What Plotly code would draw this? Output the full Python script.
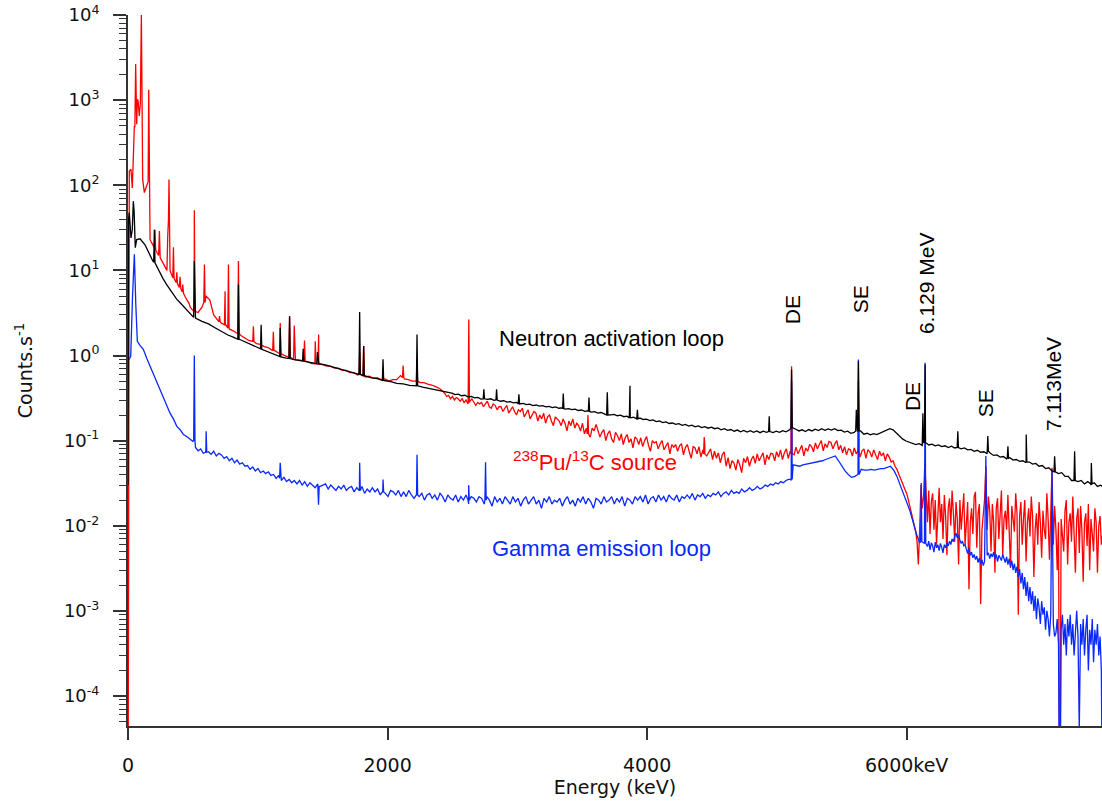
import numpy as np
import plotly.graph_objects as go

# ---------------- data (energies in keV, counts per second) ----------------
# Pu/C source (red)
RED_LOW_E = [0, 10, 23, 33, 41, 49, 53, 59, 64, 67, 72, 78, 87, 95, 103, 108, 113, 126, 144, 155,
             160, 165, 170, 183, 195, 203, 208, 213, 225, 236, 242, 248, 260, 272, 285, 300, 306, 312, 316, 320,
             324, 337, 345, 350, 355, 365, 371, 376, 381, 395, 401, 407, 417, 422, 427, 440, 455, 470]
RED_LOW_V = [1e-6, 146, 154, 93, 211, 498, 480, 2660, 700, 520, 1020, 980, 650, 900, 10200, 400, 117, 82, 98, 110,
             1320, 45, 23, 21, 19.5, 18.5, 30, 17.5, 16, 15, 29, 14, 13, 12, 11, 10, 25, 40, 117, 30,
             10, 8.8, 8.2, 18.7, 8.0, 7.5, 7.2, 9.5, 7.0, 6.3, 8.4, 6.1, 5.6, 6.8, 5.4, 4.9, 4.5, 4.1]
RED_A = [3.7, 3.35, 3.2, 3.7, 5.0, 4.5, 3.0, 2.6, 2.4, 2.25,
         2.05, 1.95, 1.82, 1.72, 1.6, 1.5, 1.47, 1.38, 1.35, 1.27,
         1.24, 1.15, 1.12, 1.04, 1.01, 0.95, 0.94, 0.89, 0.89, 0.85,
         0.85, 0.81, 0.81, 0.78, 0.78, 0.75, 0.75, 0.71, 0.71, 0.67,
         0.67, 0.63, 0.63, 0.59, 0.59, 0.56, 0.57, 0.54, 0.55, 0.52,
         0.53, 0.5, 0.52, 0.52, 0.58, 0.53, 0.52, 0.5, 0.5, 0.48,
         0.48, 0.46, 0.45, 0.43, 0.41]
RED_B = [0.38, 0.36, 0.33, 0.34, 0.31, 0.33, 0.30, 0.32, 0.31, 0.29,
         0.31, 0.28, 0.30, 0.27, 0.29, 0.31, 0.28, 0.26, 0.28, 0.27,
         0.28, 0.25, 0.27, 0.29, 0.25, 0.24, 0.27, 0.26, 0.23, 0.25,
         0.25, 0.22, 0.24, 0.26, 0.21, 0.23, 0.25, 0.22, 0.2, 0.23,
         0.22, 0.24, 0.19, 0.21, 0.23, 0.18, 0.2, 0.22, 0.21, 0.17,
         0.2, 0.18, 0.21, 0.16, 0.19, 0.2, 0.17, 0.15, 0.19, 0.18,
         0.17, 0.15, 0.18, 0.16, 0.13, 0.17, 0.15, 0.18, 0.14, 0.16,
         0.15, 0.13, 0.16, 0.12, 0.14, 0.15, 0.11, 0.14, 0.13, 0.155,
         0.13, 0.11, 0.125, 0.135, 0.1, 0.12, 0.13, 0.105, 0.095, 0.125,
         0.115, 0.1, 0.12, 0.09, 0.108, 0.118, 0.095, 0.105, 0.082, 0.11,
         0.105, 0.09, 0.108, 0.085, 0.1, 0.112, 0.088, 0.075, 0.1, 0.094,
         0.097, 0.08, 0.092, 0.1, 0.078, 0.088, 0.095, 0.07, 0.09, 0.084,
         0.09, 0.075, 0.087, 0.092, 0.068, 0.083, 0.09, 0.074, 0.062, 0.085,
         0.082, 0.07, 0.085, 0.064, 0.078, 0.088, 0.066, 0.072, 0.08, 0.06,
         0.075, 0.062, 0.072, 0.055, 0.068, 0.074, 0.05, 0.063, 0.047, 0.058,
         0.055, 0.045, 0.06, 0.052, 0.042, 0.062, 0.055, 0.065, 0.05, 0.06,
         0.066, 0.054, 0.07, 0.058, 0.064, 0.072, 0.052, 0.068, 0.06, 0.071,
         0.07, 0.058, 0.074, 0.064, 0.078, 0.06, 0.072, 0.08, 0.062, 0.075,
         0.078, 0.068, 0.084, 0.07, 0.08, 0.088, 0.066, 0.082, 0.075, 0.09,
         0.085, 0.074, 0.094, 0.08, 0.09, 0.1, 0.076, 0.092, 0.083, 0.098,
         0.095, 0.08, 0.092, 0.1, 0.078, 0.088, 0.072, 0.085, 0.068, 0.08,
         0.078, 0.066, 0.082, 0.07, 0.085, 0.064, 0.076, 0.08, 0.062, 0.078,
         0.074, 0.064, 0.078, 0.068, 0.06, 0.075, 0.066, 0.072, 0.058, 0.07,
         0.064, 0.056, 0.058, 0.05, 0.046, 0.04, 0.036, 0.031, 0.027, 0.024]
RED_C = [0.021, 0.018, 0.016, 0.014, 0.012, 0.01, 0.0085, 0.0065, 0.0035, 0.009,
         0.03, 0.016, 0.022, 0.055, 0.018, 0.011, 0.026, 0.008, 0.019, 0.024,
         0.009, 0.02, 0.006, 0.015, 0.028, 0.011, 0.018, 0.007, 0.023, 0.013,
         0.0045, 0.016, 0.021, 0.01, 0.026, 0.014, 0.0065, 0.019, 0.012, 0.0035,
         0.02, 0.009, 0.017, 0.024, 0.006, 0.013, 0.019, 0.0018, 0.011, 0.016,
         0.008, 0.022, 0.025, 0.0055, 0.014, 0.018, 0.0012, 0.009, 0.014, 0.02,
         0.05, 0.009, 0.022, 0.015, 0.005, 0.018, 0.011, 0.0028, 0.016, 0.021,
         0.007, 0.013, 0.026, 0.0045, 0.012, 0.015, 0.009, 0.023, 0.006, 0.0032,
         0.017, 0.011, 0.0085, 0.024, 0.014, 0.0009, 0.013, 0.019, 0.006, 0.012,
         0.02, 0.0038, 0.011, 0.016, 0.0075, 0.022, 0.013, 0.0025, 0.009, 0.014,
         0.006, 0.019, 0.011, 0.0042, 0.015, 0.009, 0.007, 0.024, 0.012, 0.004,
         0.012, 0.048, 0.006, 0.017, 0.009, 0.003, 0.011, 1e-6, 0.012, 0.008,
         0.005, 0.015, 0.02, 0.0035, 0.011, 0.014, 0.0065, 0.022, 0.009, 0.0028,
         0.012, 0.016, 0.0048, 0.017, 0.009, 0.0022, 0.011, 0.014, 0.0058, 0.018,
         0.003, 0.012, 0.008, 0.005, 0.016, 0.011, 0.0028, 0.01, 0.013, 0.006,
         0.008]
RED_SEGMENTS = [(480, 2400, RED_A), (2425, 6000, RED_B), (6010, 7510, RED_C)]
# peaks: (energy, peak height, height at foot)
RED_PEAKS = [(511, 51, 3.3), (589, 11.7, 4.2), (705, 2.9, 2.5), (748, 5.7, 2.3), (774, 11.7, 2.1),
             (851, 12.9, 1.8), (966, 2.2, 1.45), (1120, 1.9, 1.15), (1173, 2.4, 1.05), (1245, 2.9, 0.95),
             (1281, 2.25, 0.9), (1360, 1.5, 0.86), (1443, 1.47, 0.8), (1469, 1.77, 0.79), (1785, 1.1, 0.6),
             (1816, 1.29, 0.58), (2120, 0.76, 0.55), (2227, 0.9, 0.5), (2626, 2.65, 0.28), (3544, 0.2, 0.12),
             (4440, 0.11, 0.07), (5113, 0.75, 0.07), (5628, 0.5, 0.075)]

# Gamma emission loop (blue)
BLUE_LOW_E = [8, 21, 35, 49, 60, 72, 95, 118, 145, 170, 195, 221, 246, 272, 298, 324, 350, 376, 401, 427,
              452, 478, 500]
BLUE_LOW_V = [0.9, 0.98, 5, 15.5, 4, 1.47, 1.3, 1.18, 0.92, 0.75, 0.6, 0.5, 0.41, 0.33, 0.27, 0.21, 0.18, 0.147,
              0.135, 0.118, 0.112, 0.103, 0.098]
BLUE_A = [0.083, 0.076, 0.08, 0.071, 0.078, 0.074, 0.069, 0.075, 0.066, 0.071,
          0.068, 0.062, 0.065, 0.058, 0.062, 0.055, 0.059, 0.053, 0.055, 0.05,
          0.051, 0.046, 0.049, 0.044, 0.047, 0.042, 0.044, 0.041, 0.043, 0.039,
          0.04, 0.036, 0.039, 0.034, 0.037, 0.033, 0.035, 0.032, 0.034, 0.031,
          0.034, 0.03, 0.033, 0.029, 0.032, 0.03, 0.028, 0.031, 0.029, 0.03,
          0.031, 0.027, 0.03, 0.028, 0.026, 0.029, 0.027, 0.03, 0.026, 0.028,
          0.029, 0.025, 0.028, 0.026, 0.029, 0.024, 0.027, 0.025, 0.028, 0.025,
          0.027, 0.023, 0.026, 0.024, 0.022, 0.026, 0.025, 0.023, 0.026, 0.022,
          0.025, 0.022, 0.026, 0.023, 0.021, 0.025, 0.022, 0.024, 0.02, 0.023,
          0.024, 0.021, 0.023, 0.02, 0.024, 0.022, 0.019, 0.023, 0.021, 0.02,
          0.023, 0.019, 0.022, 0.02, 0.023, 0.018, 0.022, 0.021, 0.019, 0.022,
          0.021, 0.018, 0.022, 0.02, 0.017, 0.022, 0.019, 0.021, 0.018, 0.022,
          0.02, 0.018, 0.022, 0.019, 0.021, 0.017, 0.02, 0.022, 0.018, 0.02,
          0.022, 0.018, 0.02, 0.016, 0.021, 0.019, 0.022, 0.018, 0.02, 0.019,
          0.021, 0.017, 0.02, 0.022, 0.018, 0.02, 0.017, 0.021, 0.019, 0.022,
          0.018, 0.021, 0.019, 0.016, 0.021, 0.02, 0.018, 0.022, 0.019, 0.02,
          0.022, 0.018, 0.021, 0.019, 0.022, 0.017, 0.021, 0.02, 0.018, 0.022,
          0.02, 0.022, 0.019, 0.023, 0.018, 0.021, 0.022, 0.019, 0.023, 0.02,
          0.022, 0.019, 0.023, 0.021, 0.02, 0.023, 0.019, 0.022, 0.021, 0.023,
          0.021, 0.024, 0.02, 0.023, 0.022, 0.024, 0.021, 0.023, 0.022, 0.024,
          0.023, 0.025, 0.022, 0.024, 0.025, 0.023, 0.026, 0.024, 0.025, 0.024,
          0.027, 0.025, 0.026, 0.028, 0.026, 0.027, 0.029, 0.027, 0.028, 0.03,
          0.029, 0.031, 0.03, 0.032, 0.031, 0.033, 0.032, 0.034, 0.035, 0.034]
BLUE_B = [0.052, 0.051, 0.05, 0.052, 0.053, 0.054, 0.054, 0.056, 0.057, 0.058,
          0.06, 0.062, 0.064, 0.066, 0.058, 0.05, 0.044, 0.04, 0.037, 0.038,
          0.04, 0.046, 0.045, 0.045, 0.046, 0.045, 0.046, 0.047, 0.047, 0.048,
          0.05, 0.045, 0.038, 0.03, 0.024, 0.019, 0.015, 0.011, 0.008, 0.0063]
BLUE_C = [0.0057, 0.0066, 0.0052, 0.0063, 0.0058, 0.0049, 0.0064, 0.0055, 0.006, 0.0051,
          0.0062, 0.0056, 0.0048, 0.006, 0.0055, 0.0063, 0.0058, 0.0066, 0.006, 0.007,
          0.0065, 0.0075, 0.0082, 0.0072, 0.0078, 0.0068, 0.0062, 0.0066, 0.0058, 0.006,
          0.0052, 0.0047, 0.0055, 0.0045, 0.0049, 0.0042, 0.0046, 0.004, 0.0044, 0.0037,
          0.0042, 0.0036, 0.004, 0.0034, 0.0038, 0.066, 0.0045, 0.0048, 0.0041, 0.0047,
          0.0043, 0.0049, 0.0041, 0.0046, 0.0038, 0.0045, 0.0042, 0.0039, 0.0046, 0.0041,
          0.0037, 0.0043, 0.0035, 0.0041, 0.0033, 0.0039, 0.003, 0.0036, 0.0028, 0.0033,
          0.0025, 0.0031, 0.0021, 0.0028, 0.0018, 0.0025, 0.0015, 0.0022, 0.0013, 0.0019,
          0.0012, 0.0017, 0.001, 0.0015, 0.0008, 0.0014, 0.0011, 0.0007, 0.0013, 0.0009,
          0.0011, 0.0006, 0.001, 0.0008, 0.0005, 0.0009, 0.0457, 0.0007, 0.0005, 0.00055,
          0.0008, 0.0004, 1e-6, 0.0006, 0.0009, 0.0004, 0.0007, 0.0003, 0.0008, 0.0005,
          0.0009, 0.0004, 0.0007, 0.0003, 0.0006, 0.001, 0.0005, 0.00004, 0.0007, 0.0004,
          0.0008, 0.0003, 0.0006, 0.0009, 0.0002, 0.0006, 0.0004, 0.0008, 0.00025, 0.0006,
          0.0004, 0.0007, 0.0003, 0.0005, 0.0002, 1e-6]
BLUE_SEGMENTS = [(520, 5110, BLUE_A), (5125, 6100, BLUE_B), (6160, 7510, BLUE_C)]
BLUE_PEAKS = [(511, 1.0, 0.1), (602, 0.129, 0.073), (1173, 0.055, 0.036), (1468, 0.0177, 0.029),
              (1785, 0.055, 0.026), (1965, 0.035, 0.025), (2227, 0.068, 0.023), (2625, 0.03, 0.02),
              (2755, 0.0556, 0.02), (5113, 0.5, 0.035), (5628, 0.9, 0.04), (6112, 0.0318, 0.0065),
              (6142, 0.82, 0.0062)]

# Neutron activation loop (black)
BLACK_LOW_E = [0, 4, 10, 23, 33, 41, 47, 56, 67, 93, 131, 170, 190, 198, 203, 208, 230, 247, 270, 298,
               325, 350, 375, 400, 425, 450, 475, 500]
BLACK_LOW_V = [0.03, 40, 47.6, 24, 30, 65, 50, 18.5, 23, 23.5, 20, 14.7, 13, 12.5, 30, 12.3, 10.5, 9.4, 8, 6.8,
               5.9, 5.1, 4.6, 4.2, 3.8, 3.45, 3.15, 2.9]
BLACK_A = [2.75, 2.52, 2.35, 2.12, 1.92, 1.74, 1.62, 1.52, 1.41, 1.31,
           1.2, 1.11, 1.03, 0.97, 0.93, 0.9, 0.885, 0.85, 0.825, 0.8,
           0.775, 0.74, 0.705, 0.67, 0.645, 0.61, 0.585, 0.55, 0.535, 0.51,
           0.495, 0.47, 0.465, 0.445, 0.44, 0.425, 0.41, 0.39, 0.38, 0.365]
BLACK_B = [0.362, 0.348, 0.352, 0.337, 0.341, 0.326, 0.33, 0.318, 0.322, 0.308,
           0.316, 0.305, 0.31, 0.298, 0.302, 0.29, 0.294, 0.283, 0.287, 0.278,
           0.281, 0.27, 0.274, 0.265, 0.268, 0.258, 0.262, 0.254, 0.257, 0.249,
           0.253, 0.244, 0.249, 0.24, 0.243, 0.234, 0.238, 0.231, 0.234, 0.226,
           0.229, 0.221, 0.224, 0.216, 0.219, 0.211, 0.214, 0.206, 0.208, 0.201,
           0.203, 0.196, 0.199, 0.191, 0.194, 0.186, 0.189, 0.182, 0.184, 0.177,
           0.179, 0.172, 0.175, 0.167, 0.17, 0.163, 0.166, 0.159, 0.161, 0.155,
           0.158, 0.151, 0.155, 0.148, 0.152, 0.145, 0.149, 0.142, 0.146, 0.14,
           0.144, 0.138, 0.141, 0.134, 0.138, 0.132, 0.135, 0.129, 0.133, 0.127,
           0.132, 0.126, 0.131, 0.125, 0.13, 0.124, 0.129, 0.125, 0.13, 0.124,
           0.129, 0.125, 0.131, 0.127, 0.133, 0.142, 0.136, 0.13, 0.134, 0.128,
           0.135, 0.13, 0.136, 0.131, 0.138, 0.132, 0.137, 0.133, 0.138, 0.131,
           0.133, 0.126, 0.129, 0.122, 0.125, 0.128, 0.13, 0.119, 0.122, 0.117,
           0.121, 0.118, 0.123, 0.127, 0.133, 0.138, 0.134, 0.122, 0.112, 0.104,
           0.099, 0.096, 0.093, 0.09, 0.092, 0.088, 0.093, 0.089, 0.091, 0.087,
           0.089, 0.085, 0.087, 0.083, 0.086, 0.082, 0.084, 0.08, 0.082, 0.078,
           0.079, 0.075, 0.077, 0.073, 0.074, 0.07, 0.071, 0.067, 0.068, 0.064,
           0.065, 0.061, 0.063, 0.059, 0.06, 0.057, 0.058, 0.055, 0.056, 0.053,
           0.054, 0.05, 0.051, 0.047, 0.048, 0.044, 0.045, 0.041, 0.042, 0.038,
           0.038, 0.034, 0.036, 0.033, 0.034, 0.031, 0.033, 0.03, 0.032, 0.029,
           0.03, 0.028]
BLACK_SEGMENTS = [(520, 2470, BLACK_A), (2495, 7520, BLACK_B)]
BLACK_PEAKS = [(511, 12.9, 2.8), (851, 6.8, 1.55), (1026, 2.3, 1.18), (1173, 2.1, 0.96), (1245, 2.9, 0.92),
               (1350, 1.2, 0.86), (1460, 1.1, 0.8), (1785, 3.24, 0.6), (1816, 1.29, 0.58), (1965, 0.9, 0.51),
               (2227, 1.77, 0.44), (2742, 0.4, 0.31), (2840, 0.4, 0.3), (3012, 0.35, 0.27), (3354, 0.357, 0.237),
               (3552, 0.32, 0.22), (3693, 0.37, 0.2), (3868, 0.44, 0.185), (3925, 0.23, 0.18), (4941, 0.193, 0.128),
               (5113, 0.684, 0.14), (5612, 0.23, 0.13), (5628, 0.857, 0.13), (6125, 0.21, 0.095), (6142, 0.784, 0.095),
               (6394, 0.129, 0.083), (6625, 0.113, 0.075), (6780, 0.086, 0.062), (6921, 0.118, 0.056),
               (7140, 0.0655, 0.043), (7294, 0.075, 0.034), (7423, 0.0546, 0.031)]

X_TICKS = [0, 2000, 4000, 6000]
X_TICK_TEXT = ["0", "2000", "4000", "6000keV"]
Y_TICKS = [1e-4, 1e-3, 1e-2, 1e-1, 1e0, 1e1, 1e2, 1e3, 1e4]
Y_TICK_TEXT = ["10<sup>-4</sup>", "10<sup>-3</sup>", "10<sup>-2</sup>", "10<sup>-1</sup>", "10<sup>0</sup>",
               "10<sup>1</sup>", "10<sup>2</sup>", "10<sup>3</sup>", "10<sup>4</sup>"]
Y_MINOR = [m * 10.0 ** k for k in range(-5, 4) for m in range(2, 10)]
Y_RANGE = [-4.3525, 4.0]

PEAK_HALF_WIDTH = 5.0  # keV


def spectrum(low_e, low_v, segments, peaks):
    pts = list(zip(low_e, low_v))
    for e0, e1, vals in segments:
        pts += list(zip(np.linspace(e0, e1, len(vals)), vals))
    for e, h, b in peaks:
        pts += [(e - PEAK_HALF_WIDTH, b), (e, h), (e + PEAK_HALF_WIDTH, b)]
    pts.sort(key=lambda p: p[0])
    return [p[0] for p in pts], [p[1] for p in pts]


rx, ry = spectrum(RED_LOW_E, RED_LOW_V, RED_SEGMENTS, RED_PEAKS)
bx, by = spectrum(BLUE_LOW_E, BLUE_LOW_V, BLUE_SEGMENTS, BLUE_PEAKS)
kx, ky = spectrum(BLACK_LOW_E, BLACK_LOW_V, BLACK_SEGMENTS, BLACK_PEAKS)

RED = "#ff0000"
BLUE = "#0a28ff"
BLACK = "#000000"
AXC = "#333333"
LW = 1.3

fig = go.Figure()
fig.add_trace(go.Scatter(x=rx, y=ry, mode="lines", line=dict(color=RED, width=LW), name="238Pu/13C source"))
fig.add_trace(go.Scatter(x=bx, y=by, mode="lines", line=dict(color=BLUE, width=LW), name="Gamma emission loop"))
fig.add_trace(go.Scatter(x=kx, y=ky, mode="lines", line=dict(color=BLACK, width=LW), name="Neutron activation loop"))
# empty trace that carries the minor-tick overlay axis
fig.add_trace(go.Scatter(x=[None], y=[None], yaxis="y2", mode="lines", showlegend=False, hoverinfo="skip"))

ANN_FONT = "Liberation Sans, Arial, sans-serif"
ann = [
    dict(text="Neutron activation loop", x=3722, y=0.204, color=BLACK, angle=0, size=22),
    dict(text="<sup>238</sup>Pu/<sup>13</sup>C source", x=3600, y=-1.245, color=RED, angle=0, size=22),
    dict(text="Gamma emission loop", x=3645, y=-2.263, color=BLUE, angle=0, size=22),
    dict(text="DE", x=5117, y=0.533, color=BLACK, angle=-90, size=21),
    dict(text="SE", x=5641, y=0.663, color=BLACK, angle=-90, size=21),
    dict(text="6.129 MeV", x=6149, y=0.851, color=BLACK, angle=-90, size=21),
    dict(text="DE", x=6041, y=-0.489, color=BLACK, angle=-90, size=21),
    dict(text="SE", x=6604, y=-0.559, color=BLACK, angle=-90, size=21),
    dict(text="7.113MeV", x=7128, y=-0.335, color=BLACK, angle=-90, size=21),
]
for a in ann:
    fig.add_annotation(text=a["text"], x=a["x"], y=a["y"], xref="x", yref="y", showarrow=False,
                       textangle=a["angle"], xanchor="center", yanchor="middle",
                       font=dict(family=ANN_FONT, size=a["size"], color=a["color"]))

fig.update_layout(
    width=1102, height=805,
    margin=dict(l=128, r=0, t=15, b=79),
    paper_bgcolor="white", plot_bgcolor="white",
    showlegend=False,
    font=dict(family="DejaVu Sans, sans-serif", size=18, color="#111111"),
    xaxis=dict(
        range=[0, 7505], tickmode="array", tickvals=X_TICKS, ticktext=X_TICK_TEXT,
        ticks="outside", ticklen=12, tickwidth=1.5, tickcolor=AXC,
        showline=True, linecolor=AXC, linewidth=1.5, showgrid=False, zeroline=False,
        tickfont=dict(size=19), ticklabelstandoff=9,
        title=dict(text="Energy (keV)", font=dict(size=19), standoff=6),
    ),
    yaxis=dict(
        type="log", range=Y_RANGE, tickmode="array", tickvals=Y_TICKS, ticktext=Y_TICK_TEXT,
        ticks="outside", ticklen=13, tickwidth=1.5, tickcolor=AXC,
        showline=True, linecolor=AXC, linewidth=2, showgrid=False, zeroline=False,
        tickfont=dict(size=18), ticklabelstandoff=10,
        title=dict(text="Counts.s<sup>-1</sup>", font=dict(size=19), standoff=26),
    ),
    yaxis2=dict(
        type="log", range=Y_RANGE, overlaying="y", anchor="x", side="left",
        tickmode="array", tickvals=Y_MINOR, ticktext=[""] * len(Y_MINOR),
        ticks="outside", ticklen=8, tickwidth=1.2, tickcolor=AXC,
        showticklabels=False, showline=False, showgrid=False, zeroline=False,
    ),
)

fig.write_html("out.html")
